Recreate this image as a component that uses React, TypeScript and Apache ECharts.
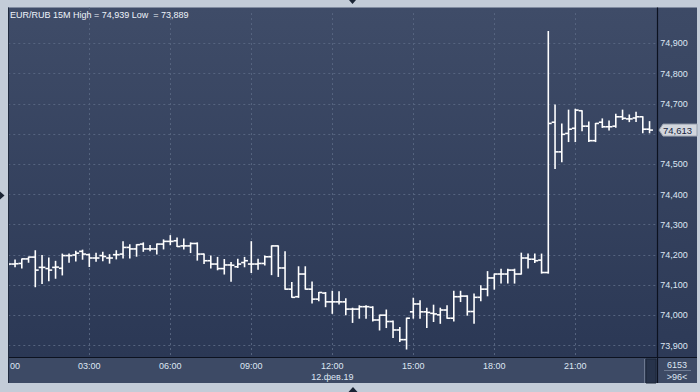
import React, { useEffect, useRef } from 'react';
import * as echarts from 'echarts';

const symbol = 'EUR/RUB';
const timeframe = '15M';
const dateLabel = '12.фев.19';
const totalBars = 6153;
const visibleBars = 96;

const opens = [
  74.172, 74.170, 74.172, 74.187, 74.193, 74.159, 74.155, 74.159, 74.156, 74.198,
  74.200, 74.212, 74.201, 74.190, 74.198, 74.190, 74.201, 74.203, 74.225, 74.220,
  74.236, 74.220, 74.220, 74.236, 74.245, 74.247, 74.230, 74.230, 74.238, 74.203,
  74.181, 74.170, 74.155, 74.167, 74.161, 74.175, 74.170, 74.170, 74.172, 74.194,
  74.230, 74.157, 74.087, 74.062, 74.137, 74.087, 74.054, 74.074, 74.045, 74.045,
  74.045, 74.021, 74.021, 74.029, 74.027, 73.985, 74.001, 73.980, 73.952, 73.920,
  74.012, 74.038, 74.012, 74.007, 74.002, 74.018, 73.991, 74.062, 74.064, 74.013,
  74.060, 74.087, 74.124, 74.137, 74.137, 74.150, 74.137, 74.190, 74.186, 74.183,
  74.142, 74.639, 74.541, 74.602, 74.619, 74.677, 74.626, 74.578, 74.639, 74.624,
  74.626, 74.657, 74.650, 74.653, 74.657, 74.616,
];
const highs = [
  74.178, 74.183, 74.187, 74.193, 74.214, 74.198, 74.190, 74.179, 74.203, 74.203,
  74.212, 74.216, 74.203, 74.206, 74.209, 74.201, 74.214, 74.244, 74.234, 74.234,
  74.240, 74.231, 74.236, 74.250, 74.264, 74.256, 74.253, 74.240, 74.240, 74.203,
  74.197, 74.192, 74.185, 74.175, 74.186, 74.192, 74.244, 74.186, 74.197, 74.230,
  74.230, 74.211, 74.109, 74.161, 74.161, 74.111, 74.076, 74.076, 74.080, 74.078,
  74.055, 74.024, 74.032, 74.032, 74.029, 74.001, 74.018, 73.982, 73.960, 73.991,
  74.057, 74.049, 74.024, 74.034, 74.024, 74.032, 74.080, 74.080, 74.065, 74.071,
  74.098, 74.145, 74.137, 74.153, 74.153, 74.153, 74.206, 74.203, 74.203, 74.203,
  74.939, 74.696, 74.633, 74.679, 74.682, 74.677, 74.640, 74.635, 74.650, 74.643,
  74.665, 74.679, 74.663, 74.672, 74.657, 74.641,
];
const lows = [
  74.165, 74.161, 74.157, 74.176, 74.095, 74.106, 74.115, 74.123, 74.134, 74.176,
  74.180, 74.186, 74.162, 74.179, 74.181, 74.173, 74.187, 74.190, 74.190, 74.196,
  74.212, 74.214, 74.203, 74.220, 74.234, 74.228, 74.220, 74.208, 74.183, 74.172,
  74.157, 74.151, 74.137, 74.113, 74.159, 74.161, 74.142, 74.153, 74.167, 74.135,
  74.129, 74.087, 74.060, 74.060, 74.087, 74.041, 74.049, 74.029, 74.007, 74.038,
  74.002, 73.977, 73.991, 73.991, 73.982, 73.952, 73.960, 73.927, 73.914, 73.889,
  73.991, 73.991, 73.960, 73.980, 73.974, 73.991, 73.982, 74.046, 74.001, 73.974,
  74.049, 74.065, 74.087, 74.107, 74.107, 74.107, 74.137, 74.157, 74.175, 74.140,
  74.140, 74.486, 74.508, 74.575, 74.575, 74.611, 74.575, 74.575, 74.622, 74.613,
  74.622, 74.648, 74.641, 74.641, 74.604, 74.604,
];
const closes = [
  74.170, 74.171, 74.187, 74.193, 74.150, 74.159, 74.150, 74.160, 74.198, 74.198,
  74.206, 74.203, 74.190, 74.190, 74.195, 74.190, 74.201, 74.225, 74.220, 74.234,
  74.220, 74.220, 74.236, 74.245, 74.245, 74.228, 74.230, 74.238, 74.203, 74.181,
  74.170, 74.155, 74.167, 74.166, 74.170, 74.181, 74.170, 74.172, 74.194, 74.230,
  74.157, 74.087, 74.060, 74.137, 74.087, 74.054, 74.076, 74.045, 74.045, 74.045,
  74.021, 74.021, 74.029, 74.029, 73.985, 74.001, 73.980, 73.952, 73.920, 73.991,
  74.038, 74.012, 74.010, 74.005, 74.018, 73.991, 74.062, 74.064, 74.013, 74.060,
  74.087, 74.124, 74.137, 74.137, 74.150, 74.137, 74.190, 74.186, 74.181, 74.142,
  74.635, 74.541, 74.599, 74.616, 74.679, 74.626, 74.578, 74.635, 74.624, 74.624,
  74.657, 74.652, 74.650, 74.657, 74.616, 74.613,
];

const yMin = 73.8;
const yMax = 75.0;
const yStep = 0.1;
const xStepBars = 12; // 3 hours of 15-minute bars

const FONT = '"Liberation Sans", Arial, sans-serif';
const LABEL = '#dde6f3';
const FRAME = '#c3ccd8';
const GRIDLINE = '#56647f';

const fmt = (v: number) => v.toFixed(3).replace('.', ',');
const hourLabel = (v: number) => {
  const mins = v * 15;
  const h = Math.floor(mins / 60) % 24;
  const m = mins % 60;
  return String(h).padStart(2, '0') + ':' + String(m).padStart(2, '0');
};

export default function App() {
  const ref = useRef<HTMLDivElement>(null);
  useEffect(() => {
    const chart = echarts.init(ref.current!, null, { renderer: 'svg' });
    const data = opens.map((o, i) => [i, o, closes[i], lows[i], highs[i]]);
    const hi = Math.max(...highs);
    const lo = Math.min(...lows);
    const last = closes[closes.length - 1];
    const lg = (a: string, b: string) =>
      new echarts.graphic.LinearGradient(0, 0, 0, 1, [
        { offset: 0, color: a },
        { offset: 1, color: b },
      ]);
    const option: any = {
      animation: false,
      grid: { left: 8.3, right: 43.7, top: 13.06, bottom: 16.06, show: false },
      xAxis: [
        {
          type: 'value', min: 0, max: visibleBars, interval: xStepBars, z: 3,
          axisLine: { show: false }, axisTick: { show: false }, axisLabel: { show: false },
          splitLine: { show: true, showMinLine: false, showMaxLine: false, lineStyle: { color: GRIDLINE, type: [2, 3], width: 1 } },
        },
        {
          type: 'value', min: 0, max: visibleBars, interval: xStepBars, position: 'bottom', offset: -18.94, z: 7,
          axisLine: { show: false }, axisTick: { show: false }, splitLine: { show: false },
          axisLabel: {
            show: true, margin: 3, color: LABEL, fontSize: 9, fontFamily: FONT, lineHeight: 11,
            formatter: (v: number) => {
              if (v <= 0 || v >= visibleBars) return '';
              if (v === 48) return hourLabel(v) + '\n' + dateLabel;
              return hourLabel(v);
            },
          },
        },
      ],
      yAxis: {
        type: 'value', position: 'right', min: yMin, max: yMax, interval: yStep, z: 3,
        axisLine: { show: false }, axisTick: { show: false },
        axisLabel: {
          margin: 4, color: LABEL, fontSize: 9, fontFamily: FONT, showMinLabel: false, showMaxLabel: false,
          // the level hidden under the last-price tag is not shown
          formatter: (v: number) => (Math.abs(v - last) < 0.03 ? '' : fmt(v)),
        },
        splitLine: { show: true, showMinLine: false, showMaxLine: false, lineStyle: { color: GRIDLINE, type: [2, 3], width: 1 } },
      },
      series: [
        {
          type: 'custom', z: 4, clip: false, data,
          encode: { x: 0, y: [1, 2, 3, 4] },
          renderItem: (_p: any, api: any) => {
            const i = api.value(0);
            const pO = api.coord([i, api.value(1)]);
            const pC = api.coord([i, api.value(2)]);
            const pL = api.coord([i, api.value(3)]);
            const pH = api.coord([i, api.value(4)]);
            const x = pO[0];
            const st = { stroke: '#ffffff', lineWidth: 1.6 };
            return {
              type: 'group',
              children: [
                { type: 'line', shape: { x1: x, y1: pH[1] - 0.5, x2: x, y2: pL[1] + 0.5 }, style: st },
                { type: 'line', shape: { x1: x - 3.4, y1: pO[1], x2: x, y2: pO[1] }, style: st },
                { type: 'line', shape: { x1: x, y1: pC[1], x2: x + 3.4, y2: pC[1] }, style: st },
              ],
            };
          },
        },
      ],
      graphic: [
        { type: 'rect', z: 1, shape: { x: 0, y: 0, width: 700, height: 392 }, style: { fill: FRAME } },
        { type: 'rect', z: 1, shape: { x: 8, y: 7.5, width: 649, height: 350 }, style: { fill: lg('#3f4c68', '#2b3855') } },
        { type: 'rect', z: 1, shape: { x: 657, y: 7.5, width: 40, height: 350 }, style: { fill: lg('#3d4a66', '#2d3a57') } },
        { type: 'line', z: 2, shape: { x1: 89.3, y1: 7.5, x2: 89.3, y2: 13 }, style: { stroke: GRIDLINE, lineWidth: 1, lineDash: [2, 3] } },
        // covers
        { type: 'rect', z: 6, shape: { x: 0, y: 0, width: 8, height: 392 }, style: { fill: FRAME } },
        { type: 'rect', z: 6, shape: { x: 8, y: 357, width: 689, height: 26 }, style: { fill: '#3d4a65' } },
        { type: 'rect', z: 6, shape: { x: 0, y: 383, width: 700, height: 9 }, style: { fill: FRAME } },
        { type: 'rect', z: 6, shape: { x: 697, y: 0, width: 3, height: 392 }, style: { fill: FRAME } },
        { type: 'rect', z: 6, shape: { x: 646, y: 359, width: 10, height: 24 }, style: { fill: '#27334b', stroke: '#1d2738', lineWidth: 1 } },
        { type: 'line', z: 6, shape: { x1: 644.5, y1: 359, x2: 644.5, y2: 383 }, style: { stroke: '#6c7890', lineWidth: 1 } },
        { type: 'line', z: 6, shape: { x1: 8, y1: 357.5, x2: 697, y2: 357.5 }, style: { stroke: '#0c1220', lineWidth: 1.2 } },
        { type: 'line', z: 6, shape: { x1: 657.5, y1: 7.5, x2: 657.5, y2: 383 }, style: { stroke: '#0c1220', lineWidth: 1.2 } },
        { type: 'line', z: 6, shape: { x1: 8.5, y1: 7.5, x2: 8.5, y2: 383 }, style: { stroke: '#1f2a3e', lineWidth: 1 } },
        { type: 'line', z: 6, shape: { x1: 664, y1: 370.5, x2: 691, y2: 370.5 }, style: { stroke: '#6d7a92', lineWidth: 1 } },
        { type: 'text', z: 6, x: 677, y: 365, style: { text: String(totalBars), fill: LABEL, font: '9px ' + FONT, align: 'center', verticalAlign: 'middle' } },
        { type: 'text', z: 6, x: 677, y: 377, style: { text: '>' + visibleBars + '<', fill: LABEL, font: '9px ' + FONT, align: 'center', verticalAlign: 'middle' } },
        { type: 'text', z: 7, x: 10, y: 365.5, style: { text: '00', fill: LABEL, font: '9px ' + FONT, align: 'left', verticalAlign: 'middle' } },
        { type: 'text', z: 6, x: 10, y: 15, style: { text: `${symbol} ${timeframe} High = ${fmt(hi)} Low  = ${fmt(lo)}`, fill: '#eef3fa', font: '9px ' + FONT, align: 'left', verticalAlign: 'middle' } },
        { type: 'polygon', z: 6, shape: { points: [[349, 0], [356, 0], [352.5, 4]] }, style: { fill: '#1a2434' } },
        { type: 'polygon', z: 6, shape: { points: [[348.5, 392], [357.5, 392], [353, 387]] }, style: { fill: '#1a2434' } },
        { type: 'polygon', z: 6, shape: { points: [[0, 191.5], [0, 199.5], [4.5, 195.5]] }, style: { fill: '#1a2434' } },
      ],
    };
    chart.setOption(option);
    const py = chart.convertToPixel({ yAxisIndex: 0 }, last) as number;
    chart.setOption({
      graphic: [
        { id: 'pl-box', type: 'polygon', z: 8, shape: { points: [[659, py], [663, py - 6], [697, py - 6], [697, py + 6], [663, py + 6]] }, style: { fill: '#d2d6dd', stroke: '#98a1ae', lineWidth: 1 } },
        { id: 'pl-text', type: 'text', z: 9, x: 663, y: py, style: { text: fmt(last), fill: '#17243d', font: '9.5px ' + FONT, align: 'left', verticalAlign: 'middle' } },
      ],
    });
    return () => chart.dispose();
  }, []);
  return <div ref={ref} style={{ position: 'absolute', left: 0, top: 0, width: 700, height: 392 }} />;
}
